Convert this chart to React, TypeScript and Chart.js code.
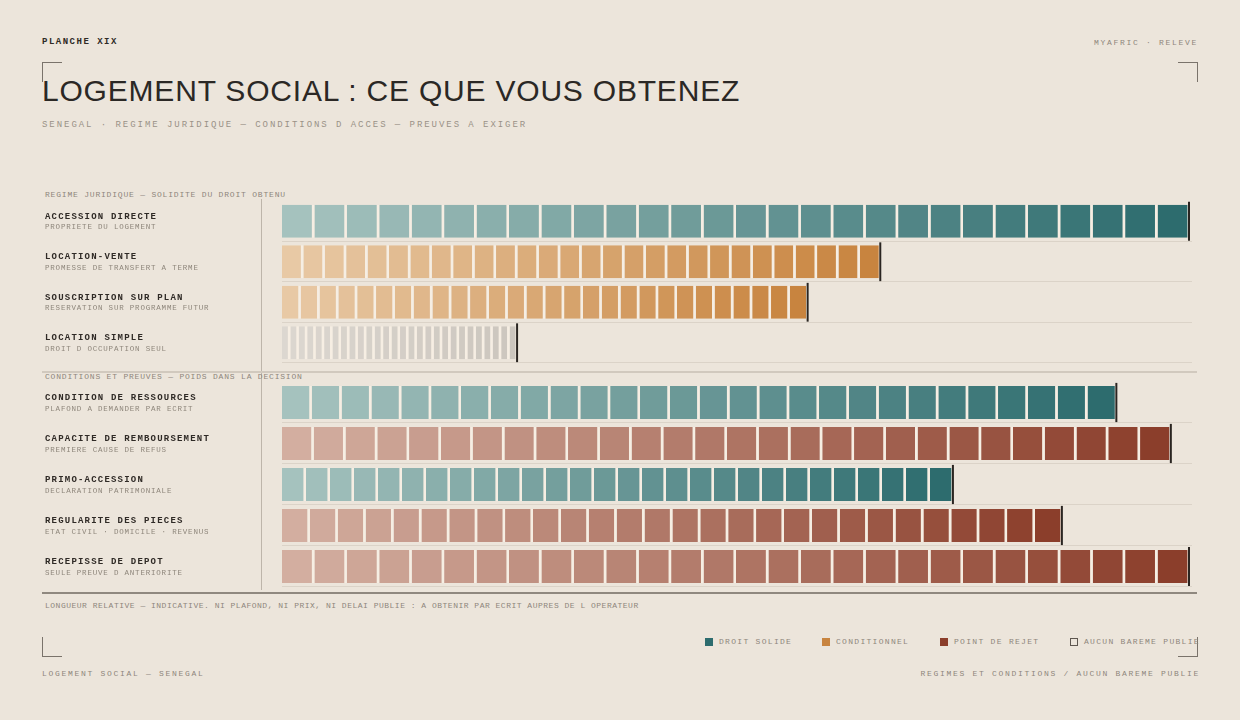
import { useEffect, useRef } from 'react';
import { Chart, registerables } from 'chart.js';

Chart.register(...registerables);

type Kind = 'solide' | 'conditionnel' | 'rejet' | 'aucun';

// regime juridique
const regimeLabels = ['ACCESSION DIRECTE', 'LOCATION-VENTE', 'SOUSCRIPTION SUR PLAN', 'LOCATION SIMPLE'];
const regimeNotes = ['PROPRIETE DU LOGEMENT', 'PROMESSE DE TRANSFERT A TERME', 'RESERVATION SUR PROGRAMME FUTUR', 'DROIT D OCCUPATION SEUL'];
const regimeValues = [100, 66, 58, 26];
const regimeKinds: Kind[] = ['solide', 'conditionnel', 'conditionnel', 'aucun'];

// conditions et preuves
const conditionLabels = ['CONDITION DE RESSOURCES', 'CAPACITE DE REMBOURSEMENT', 'PRIMO-ACCESSION', 'REGULARITE DES PIECES', 'RECEPISSE DE DEPOT'];
const conditionNotes = ['PLAFOND A DEMANDER PAR ECRIT', 'PREMIERE CAUSE DE REFUS', 'DECLARATION PATRIMONIALE', 'ETAT CIVIL · DOMICILE · REVENUS', 'SEULE PREUVE D ANTERIORITE'];
const conditionValues = [92, 98, 74, 86, 100];
const conditionKinds: Kind[] = ['solide', 'rejet', 'solide', 'rejet', 'rejet'];

const legendLabels = ['DROIT SOLIDE', 'CONDITIONNEL', 'POINT DE REJET', 'AUCUN BAREME PUBLIE'];
const legendKinds: Kind[] = ['solide', 'conditionnel', 'rejet', 'aucun'];

const SEGMENTS = 28;

const MONO = '"Courier New", "Liberation Mono", monospace';
const SANS = '"Liberation Sans", Arial, sans-serif';
const BG = '#ece5db';
const GAP = '#f6eee3';
const INK = '#2f2a26';
const MUTED = '#8e867b';

const RAMPS: Record<Kind, [string, string]> = {
  solide: ['#a5c2be', '#2d6c6e'],
  conditionnel: ['#e8c9a5', '#c8843f'],
  rejet: ['#d3aea0', '#8b3e2b'],
  aucun: ['#dcd7d0', '#ccc6be'],
};

const hex = (h: string) => [1, 3, 5].map(i => parseInt(h.slice(i, i + 2), 16));
const mix = (a: string, b: string, t: number) => {
  const ca = hex(a);
  const cb = hex(b);
  const c = ca.map((v, i) => Math.round(v + (cb[i] - v) * t));
  return `rgb(${c[0]}, ${c[1]}, ${c[2]})`;
};

interface SectionProps {
  labels: string[];
  notes: string[];
  values: number[];
  kinds: Kind[];
  top: number;
  height: number;
}

const SectionChart: React.FC<SectionProps> = ({ labels, notes, values, kinds, top, height }) => {
  const chartRef = useRef<HTMLCanvasElement>(null);

  useEffect(() => {
    if (!chartRef.current) return;
    const ctx = chartRef.current.getContext('2d');
    if (!ctx) return;

    // lignes de rangée + libellés + repère de fin
    const deco = {
      id: 'deco',
      beforeDatasetsDraw(chart: any) {
        const { ctx: c, chartArea } = chart;
        const band = (chartArea.bottom - chartArea.top) / labels.length;
        c.save();
        c.strokeStyle = 'rgba(110, 95, 80, 0.13)';
        c.lineWidth = 1;
        labels.forEach((_, i) => {
          const y = Math.round(chartArea.top + band * (i + 1)) - 0.5;
          c.beginPath();
          c.moveTo(chartArea.left, y);
          c.lineTo(chartArea.right + 2, y);
          c.stroke();
        });
        c.restore();
      },
      afterDatasetsDraw(chart: any) {
        const { ctx: c, scales } = chart;
        const meta = chart.getDatasetMeta(SEGMENTS - 1);
        c.save();
        c.strokeStyle = '#2a2521';
        c.lineWidth = 2;
        values.forEach((v, i) => {
          const el = meta.data[i];
          const x = scales.x.getPixelForValue(v) - 1;
          c.beginPath();
          c.moveTo(x, el.y - el.height / 2 - 3);
          c.lineTo(x, el.y + el.height / 2 + 3);
          c.stroke();
        });

        c.textBaseline = 'alphabetic';
        labels.forEach((label, i) => {
          const cy = scales.y.getPixelForValue(i);
          c.fillStyle = INK;
          c.font = `bold 9px ${MONO}`;
          c.letterSpacing = '1.2px';
          c.fillText(label, 3, cy - 2.5);
          c.fillStyle = MUTED;
          c.font = `7.5px ${MONO}`;
          c.letterSpacing = '0.8px';
          c.fillText(notes[i], 3, cy + 8);
        });
        c.restore();
      },
    };

    const chart = new Chart(ctx, {
      type: 'bar',
      data: {
        labels,
        datasets: Array.from({ length: SEGMENTS }, (_, s) => ({
          label: `segment ${s + 1}`,
          data: values.map(v => v / SEGMENTS),
          backgroundColor: kinds.map(k => mix(RAMPS[k][0], RAMPS[k][1], s / (SEGMENTS - 1))),
          borderColor: GAP,
          borderWidth: { top: 0, right: 2.6, bottom: 0, left: 0 },
          borderSkipped: false,
          inflateAmount: 0,
          barPercentage: 0.81,
          categoryPercentage: 1,
        })),
      },
      options: {
        indexAxis: 'y',
        animation: false,
        responsive: true,
        maintainAspectRatio: false,
        layout: { padding: { left: 240, right: 7, top: 0, bottom: 0 } },
        plugins: {
          legend: { display: false },
          tooltip: { enabled: false },
        },
        scales: {
          x: { stacked: true, min: 0, max: 100, display: false },
          y: { stacked: true, display: false },
        },
      },
      plugins: [deco],
    } as any);

    return () => {
      chart.destroy();
    };
  }, [labels, notes, values, kinds]);

  return (
    <div style={{ position: 'absolute', left: 42, top, width: 1155, height }}>
      <canvas ref={chartRef} />
    </div>
  );
};

const txt = (extra: React.CSSProperties): React.CSSProperties => ({
  position: 'absolute',
  whiteSpace: 'nowrap',
  fontFamily: MONO,
  lineHeight: 1,
  ...extra,
});

const corner = (extra: React.CSSProperties): React.CSSProperties => ({
  position: 'absolute',
  width: 20,
  height: 20,
  borderColor: '#7a736b',
  borderStyle: 'solid',
  borderWidth: 0,
  boxSizing: 'border-box',
  ...extra,
});

export default function App() {
  return (
    <div style={{ position: 'fixed', left: 0, top: 0, width: 1240, height: 720, background: BG, overflow: 'hidden' }}>
      <div style={txt({ left: 42, top: 38, fontSize: 9, fontWeight: 'bold', letterSpacing: 1.5, color: INK })}>PLANCHE XIX</div>
      <div style={txt({ right: 42, top: 39, fontSize: 8, letterSpacing: 1.7, color: MUTED })}>MYAFRIC · RELEVE</div>

      <div style={corner({ left: 42, top: 62, borderTopWidth: 1.5, borderLeftWidth: 1.5 })} />
      <div style={corner({ left: 1178, top: 62, borderTopWidth: 1.5, borderRightWidth: 1.5 })} />
      <div style={corner({ left: 42, top: 637, borderBottomWidth: 1.5, borderLeftWidth: 1.5 })} />
      <div style={corner({ left: 1178, top: 637, borderBottomWidth: 1.5, borderRightWidth: 1.5 })} />

      <div style={txt({ left: 42, top: 76, fontFamily: SANS, fontSize: 30, lineHeight: '30px', letterSpacing: 0.8, color: '#2b2825' })}>
        LOGEMENT SOCIAL : CE QUE VOUS OBTENEZ
      </div>
      <div style={txt({ left: 42, top: 121, fontSize: 9, letterSpacing: 1.95, color: '#9a9287' })}>
        SENEGAL · REGIME JURIDIQUE — CONDITIONS D ACCES — PREUVES A EXIGER
      </div>

      <div style={txt({ left: 45, top: 191, fontSize: 8, letterSpacing: 0.8, color: MUTED })}>
        REGIME JURIDIQUE — SOLIDITE DU DROIT OBTENU
      </div>
      <div style={{ position: 'absolute', left: 261, top: 199, width: 1, height: 391, background: '#bdb5aa' }} />

      <SectionChart labels={regimeLabels} notes={regimeNotes} values={regimeValues} kinds={regimeKinds} top={201} height={162} />

      <div style={{ position: 'absolute', left: 42, top: 371, width: 1155, height: 1.5, background: '#d1c9be' }} />
      <div style={txt({ left: 45, top: 373, fontSize: 8, letterSpacing: 0.8, color: MUTED })}>
        CONDITIONS ET PREUVES — POIDS DANS LA DECISION
      </div>

      <SectionChart labels={conditionLabels} notes={conditionNotes} values={conditionValues} kinds={conditionKinds} top={382} height={205} />

      <div style={{ position: 'absolute', left: 42, top: 592, width: 1155, height: 2, background: '#8f887f' }} />
      <div style={txt({ left: 45, top: 602, fontSize: 8, letterSpacing: 0.5, color: MUTED })}>
        LONGUEUR RELATIVE — INDICATIVE. NI PLAFOND, NI PRIX, NI DELAI PUBLIE : A OBTENIR PAR ECRIT AUPRES DE L OPERATEUR
      </div>

      {legendLabels.map((label, i) => {
        const lefts = [705, 822, 940, 1070];
        const k = legendKinds[i];
        return (
          <div key={label} style={{ position: 'absolute', left: lefts[i], top: 637, height: 9, display: 'flex', alignItems: 'center' }}>
            <div
              style={{
                width: 8,
                height: 8,
                boxSizing: 'border-box',
                background: k === 'aucun' ? 'transparent' : RAMPS[k][1],
                border: k === 'aucun' ? '1px solid #5e5750' : 'none',
                marginRight: 6,
              }}
            />
            <span style={{ fontFamily: MONO, fontSize: 8, letterSpacing: 1.3, color: MUTED, lineHeight: 1, whiteSpace: 'nowrap' }}>{label}</span>
          </div>
        );
      })}

      <div style={txt({ left: 42, top: 670, fontSize: 8, letterSpacing: 1.7, color: MUTED })}>LOGEMENT SOCIAL — SENEGAL</div>
      <div style={txt({ right: 40, top: 670, fontSize: 8, letterSpacing: 1.7, color: MUTED })}>
        REGIMES ET CONDITIONS / AUCUN BAREME PUBLIE
      </div>
    </div>
  );
}
